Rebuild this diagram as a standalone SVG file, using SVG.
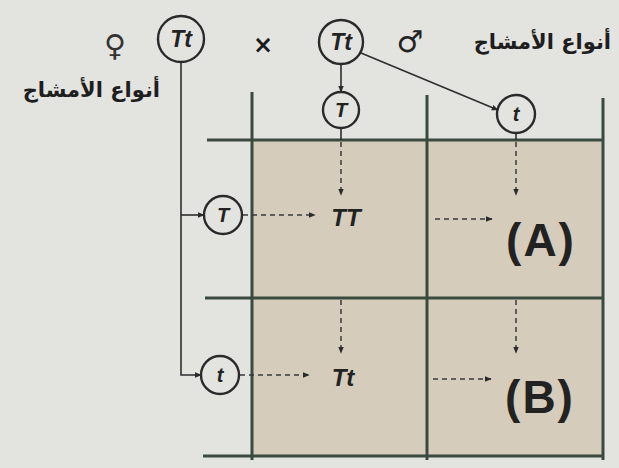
<svg xmlns="http://www.w3.org/2000/svg" width="619" height="468" viewBox="0 0 619 468">
<defs>
<marker id="ah" viewBox="0 0 10 10" refX="9" refY="5" markerWidth="7" markerHeight="7" orient="auto" markerUnits="userSpaceOnUse">
<path d="M0,1 L10,5 L0,9 Z" fill="#2a2a2a"/>
</marker>
<style>
.grid{stroke:#3b4a3e;stroke-width:3;fill:none}
.con{stroke:#2e2e2e;stroke-width:1.6;fill:none}
.dash{stroke:#3a3a3a;stroke-width:1.5;fill:none;stroke-dasharray:5 4}
.ring{fill:none;stroke:#2a2a2a;stroke-width:2.4}
.g{font-family:"Liberation Sans",Arial,sans-serif;font-style:italic;font-weight:bold;fill:#222;text-anchor:middle}
.ar{font-family:"DejaVu Sans","Noto Sans",sans-serif;font-weight:bold;fill:#1e1e1e}
.big{font-family:"Liberation Sans",Arial,sans-serif;font-weight:bold;fill:#222;text-anchor:middle}
</style>
</defs>
<rect width="619" height="468" fill="#e3e3e0"/>
<rect x="252" y="140" width="351" height="317" fill="#d5ccbc"/>

<g id="grid">
<line class="grid" x1="207" y1="140" x2="604" y2="140"/>
<line class="grid" x1="205" y1="298" x2="604" y2="298"/>
<line class="grid" x1="203" y1="456" x2="604" y2="456"/>
<line class="grid" x1="252" y1="92" x2="252" y2="460"/>
<line class="grid" x1="427" y1="95" x2="427" y2="460"/>
<line class="grid" x1="603" y1="98" x2="603" y2="460"/>
</g>

<g id="connectors">
<path class="con" d="M181,62 V375 H201" marker-end="url(#ah)"/>
<path class="con" d="M181,215 H204" marker-end="url(#ah)"/>
<path class="con" d="M341,64 V92" marker-end="url(#ah)"/>
<path class="con" d="M361,53 L498,110" marker-end="url(#ah)"/>
<path class="con" d="M341,128 V140"/>
<path class="con" d="M516,133 V140"/>
<path class="dash" d="M341,142 V195" marker-end="url(#ah)"/>
<path class="dash" d="M516,142 V195" marker-end="url(#ah)"/>
<path class="dash" d="M341,300 V353" marker-end="url(#ah)"/>
<path class="dash" d="M516,300 V353" marker-end="url(#ah)"/>
<path class="dash" d="M243,215 H315" marker-end="url(#ah)"/>
<path class="dash" d="M240,375 H309" marker-end="url(#ah)"/>
<path class="dash" d="M435,219 H492" marker-end="url(#ah)"/>
<path class="dash" d="M433,379 H491" marker-end="url(#ah)"/>
</g>

<g id="female-parent">
<circle class="ring" cx="181" cy="39" r="23"/>
<text class="g" x="181" y="47" font-size="23">Tt</text>
</g>
<g id="male-parent">
<circle class="ring" cx="341" cy="42" r="22"/>
<text class="g" x="341" y="50" font-size="23">Tt</text>
</g>
<g id="male-T">
<circle class="ring" cx="341" cy="110" r="18"/>
<text class="g" x="341" y="117" font-size="20">T</text>
</g>
<g id="male-t">
<circle class="ring" cx="516" cy="114" r="19"/>
<text class="g" x="516" y="121" font-size="20">t</text>
</g>
<g id="female-T">
<circle class="ring" cx="223" cy="215" r="19"/>
<text class="g" x="223" y="222" font-size="20">T</text>
</g>
<g id="female-t">
<circle class="ring" cx="220" cy="375" r="19"/>
<text class="g" x="220" y="382" font-size="20">t</text>
</g>

<g id="cell-TT"><text class="g" x="346" y="226" font-size="24">TT</text></g>
<g id="cell-Tt"><text class="g" x="343" y="386" font-size="24">Tt</text></g>
<g id="cell-A"><text class="big" x="541" y="256" font-size="46" letter-spacing="2">(A)</text></g>
<g id="cell-B"><text class="big" x="540" y="413" font-size="46" letter-spacing="2">(B)</text></g>

<g id="labels">
<text x="115" y="56" font-family="DejaVu Sans,sans-serif" font-size="30" fill="#333" text-anchor="middle">♀</text>
<text x="410" y="52" font-family="DejaVu Sans,sans-serif" font-size="30" fill="#222" text-anchor="middle">♂</text>
<text x="263" y="53" font-family="DejaVu Sans,sans-serif" font-size="24" font-weight="bold" fill="#1a1a1a" text-anchor="middle">×</text>
<text class="ar" x="160" y="97" font-size="21" text-anchor="end">أنواع الأمشاج</text>
<text class="ar" x="611" y="49" font-size="21" text-anchor="end">أنواع الأمشاج</text>
</g>
</svg>
